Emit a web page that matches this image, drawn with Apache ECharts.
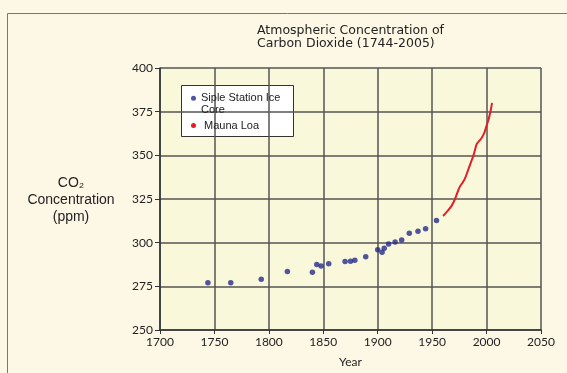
<!DOCTYPE html>
<html>
<head>
<meta charset="utf-8">
<script src="https://cdn.jsdelivr.net/npm/echarts@6/dist/echarts.min.js"></script>
<style>
  html, body { margin: 0; padding: 0; background: #fdf8e6; }
  #chart { width: 567px; height: 373px; }
</style>
</head>
<body>
<div id="chart"></div>
<script>
// Siple Station ice core samples [year, ppm]
const iceYears = [1744, 1765, 1793, 1817, 1840, 1844, 1848, 1855, 1870, 1875, 1879, 1889, 1900, 1904, 1906, 1910, 1916, 1922, 1929, 1937, 1944, 1954];
const iceValues = [277, 277, 279, 283.5, 283, 287.5, 286.7, 288, 289.2, 289.3, 290, 292, 296, 294.5, 296.8, 299.3, 300.4, 301.5, 305.4, 306.6, 307.9, 312.7];

// Mauna Loa record [year, ppm]
const mlYears = [1960, 1964, 1968, 1971, 1975, 1978, 1980, 1983, 1985, 1988, 1991, 1995, 1998, 2000, 2002, 2004, 2005];
const mlValues = [315.3, 318, 321.2, 325, 331.5, 334.5, 336.5, 341.5, 345, 350, 356.5, 359.5, 363, 367, 371, 376.4, 380];

const xTicks = { min: 1700, max: 2050, step: 50 };
const yTicks = { min: 250, max: 400, step: 25 };

const chart = echarts.init(document.getElementById('chart'));
const pair = (xs, ys) => xs.map((x, i) => [x, ys[i]]);
const font = 'Liberation Sans, Arial, sans-serif';

const legendBase = {
  orient: 'vertical',
  left: 191,
  padding: 0,
  itemWidth: 5,
  itemHeight: 5,
  icon: 'circle',
  selectedMode: false
};

chart.setOption({
  backgroundColor: '#fdf8e6',
  animation: false,
  title: {
    text: 'Atmospheric Concentration of\nCarbon Dioxide (1744-2005)',
    left: 257,
    top: 24.5,
    padding: 0,
    textStyle: {
      fontFamily: 'DejaVu Sans, sans-serif',
      fontSize: 12.5,
      fontWeight: 'normal',
      color: '#222',
      lineHeight: 12.5
    }
  },
  legend: [
    Object.assign({}, legendBase, {
      top: 81,
      data: ['Siple Station Ice Core'],
      // blank first line keeps the dot level with the first text line
      formatter: () => ' \nSiple Station Ice\nCore',
      textStyle: { fontFamily: font, fontSize: 11, color: '#222', lineHeight: 11.5 }
    }),
    Object.assign({}, legendBase, {
      top: 120,
      data: ['Mauna Loa'],
      textStyle: { fontFamily: font, fontSize: 11, color: '#222', lineHeight: 10.5, padding: [0, 0, 0, 3] }
    })
  ],
  grid: { left: 160, right: 26, top: 68, bottom: 38, show: true, backgroundColor: '#f9f8db', borderWidth: 0 },
  xAxis: {
    type: 'value',
    min: xTicks.min,
    max: xTicks.max,
    interval: xTicks.step,
    name: 'Year',
    nameLocation: 'middle',
    nameGap: 26,
    nameTextStyle: { fontFamily: 'Lato, Open Sans, sans-serif', fontSize: 12, color: '#222' },
    axisLine: { lineStyle: { color: '#333', width: 1.5 } },
    axisTick: { length: 4, lineStyle: { color: '#333' } },
    axisLabel: { fontFamily: 'Lato, Open Sans, sans-serif', fontSize: 12, color: '#222', margin: 6, formatter: v => String(v) },
    splitLine: { lineStyle: { color: '#555', width: 1.5 } }
  },
  yAxis: {
    type: 'value',
    min: yTicks.min,
    max: yTicks.max,
    interval: yTicks.step,
    axisLine: { show: true, lineStyle: { color: '#333', width: 1.5 } },
    axisTick: { show: true, length: 5, lineStyle: { color: '#333' } },
    axisLabel: { fontFamily: 'Lato, Open Sans, sans-serif', fontSize: 12, color: '#222', margin: 7 },
    splitLine: { lineStyle: { color: '#555', width: 1.5 } }
  },
  graphic: [
    {
      type: 'rect',
      shape: { x: 7.5, y: 13.5, width: 600, height: 400 },
      style: { fill: 'none', stroke: '#777', lineWidth: 1 },
      silent: true
    },
    {
      type: 'rect',
      shape: { x: 181.5, y: 85.5, width: 112, height: 51 },
      style: { fill: '#ffffff', stroke: '#333', lineWidth: 1 },
      silent: true
    },
    {
      type: 'text',
      x: 71,
      y: 174.5,
      style: {
        text: 'CO\u2082\nConcentration\n(ppm)',
        textAlign: 'center',
        textVerticalAlign: 'top',
        fontFamily: font,
        fontSize: 14,
        lineHeight: 17,
        fill: '#222'
      }
    }
  ],
  series: [
    {
      name: 'Siple Station Ice Core',
      type: 'scatter',
      symbol: 'circle',
      symbolSize: 5.5,
      itemStyle: { color: '#262a8a' },
      data: pair(iceYears, iceValues)
    },
    {
      name: 'Mauna Loa',
      type: 'line',
      showSymbol: false,
      smooth: 0.3,
      itemStyle: { color: '#e41e26' },
      lineStyle: { color: '#e41e26', width: 2 },
      data: pair(mlYears, mlValues)
    }
  ]
});
</script>
</body>
</html>
